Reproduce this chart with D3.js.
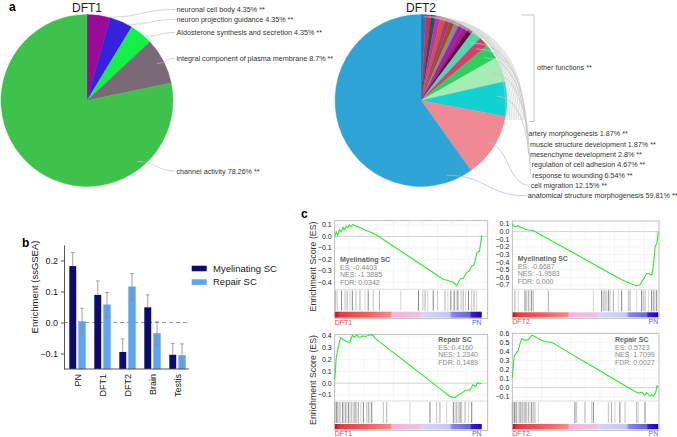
<!DOCTYPE html>
<html>
<head>
<meta charset="utf-8">
<script src="https://cdn.jsdelivr.net/npm/d3@7"></script>
<style>
  body { margin: 0; background: #fff; }
  svg { font-family: "Liberation Sans", Arial, sans-serif; }
</style>
</head>
<body>
<svg id="fig" width="677" height="437"></svg>
<script>
// ---------- panel a: pie data
const dft1Names = ['neuronal cell body', 'neuron projection guidance', 'Aldosterone synthesis and secretion',
  'integral component of plasma membrane', 'channel activity'];
const dft1Pct = [4.35, 4.35, 4.35, 8.7, 78.26];
const dft1Colors = ['#9a0c98', '#3422dc', '#14f048', '#7a6a78', '#3dc24b'];

// 11 small "other functions" slices first, then the named ones
const dft2Names = [null, null, null, null, null, null, null, null, null, null, null,
  'artery morphogenesis', 'muscle structure development', 'mesenchyme development',
  'regulation of cell adhesion', 'response to wounding', 'cell migration', 'anatomical structure morphogenesis'];
const dft2Pct = [0.93, 0.93, 0.93, 0.93, 0.93, 0.93, 0.93, 0.93, 0.93, 0.93, 0.93,
  1.87, 1.87, 2.8, 4.67, 6.54, 12.15, 59.81];
const dft2Colors = ['#2077b4', '#e0245a', '#1c5a50', '#d822c4', '#c0602a', '#b0308c', '#8b5a10', '#a07ca0',
  '#8e2aa0', '#a81890', '#5a0a40', '#50d6a8', '#d6406e', '#2ecf5c', '#a6ecb6', '#10d2d0', '#ef8a94', '#2ea4d6'];

// ---------- panel b: ssGSEA bars
const groups = ['PN', 'DFT1', 'DFT2', 'Brain', 'Testis'];
const seriesNames = ['Myelinating SC', 'Repair SC'];
const myelinating = [0.182, 0.089, -0.095, 0.049, -0.104];
const myelinatingErr = [0.044, 0.045, 0.042, 0.040, 0.036];
const repair = [0.003, 0.057, 0.115, -0.035, -0.106];
const repairErr = [0.043, 0.040, 0.043, 0.037, 0.037];
const bTicks = [0.2, 0.1, 0.0, -0.1];

// ---------- panel c: GSEA running enrichment scores [rank fraction, ES]
const esMyelDFT1 = [[0.000, 0.00], [0.010, 0.04], [0.020, 0.01], [0.033, 0.06], [0.045, 0.04], [0.056, 0.08],
  [0.066, 0.06], [0.080, 0.09], [0.090, 0.075], [0.100, 0.10], [0.112, 0.085], [0.122, 0.105], [0.135, 0.095],
  [0.150, 0.09], [0.175, 0.075], [0.210, 0.055], [0.250, 0.035], [0.300, 0.00], [0.400, -0.085], [0.500, -0.17],
  [0.600, -0.255], [0.700, -0.34], [0.740, -0.375], [0.760, -0.38], [0.785, -0.39], [0.805, -0.40], [0.830, -0.43],
  [0.845, -0.39], [0.855, -0.37], [0.875, -0.365], [0.898, -0.315], [0.915, -0.30], [0.932, -0.26], [0.945, -0.25],
  [0.955, -0.215], [0.968, -0.14], [0.985, -0.13], [1.000, 0.01]];
const esMyelDFT2 = [[0.000, 0.10], [0.010, 0.07], [0.020, 0.065], [0.040, 0.075], [0.055, 0.06], [0.075, 0.045],
  [0.090, 0.03], [0.110, 0.022], [0.144, 0.013], [0.167, -0.013], [0.247, -0.096], [0.350, -0.206], [0.450, -0.312],
  [0.550, -0.418], [0.650, -0.525], [0.749, -0.63], [0.818, -0.686], [0.852, -0.71], [0.874, -0.70], [0.886, -0.656],
  [0.905, -0.60], [0.920, -0.546], [0.940, -0.555], [0.955, -0.57], [0.966, -0.46], [0.978, -0.20], [0.990, -0.15],
  [1.000, 0.0]];
const esRepairDFT1 = [[0.000, 0.03], [0.010, 0.21], [0.025, 0.31], [0.040, 0.386], [0.070, 0.36], [0.100, 0.343],
  [0.120, 0.406], [0.135, 0.39], [0.150, 0.41], [0.170, 0.386], [0.190, 0.40], [0.210, 0.395], [0.240, 0.41],
  [0.260, 0.405], [0.275, 0.38], [0.400, 0.259], [0.500, 0.162], [0.600, 0.066], [0.700, -0.031], [0.786, -0.114],
  [0.820, -0.123], [0.840, -0.10], [0.862, -0.086], [0.890, -0.06], [0.920, -0.057], [0.940, -0.014], [0.960, -0.03],
  [0.970, 0.005], [0.985, -0.005], [1.000, 0.0]];
const esRepairDFT2 = [[0.000, 0.11], [0.007, 0.24], [0.014, 0.35], [0.030, 0.39], [0.041, 0.405], [0.052, 0.48],
  [0.064, 0.54], [0.087, 0.525], [0.110, 0.53], [0.133, 0.58], [0.155, 0.565], [0.178, 0.54], [0.224, 0.51],
  [0.270, 0.50], [0.400, 0.376], [0.500, 0.281], [0.600, 0.186], [0.700, 0.091], [0.817, -0.02], [0.863, -0.06],
  [0.886, -0.05], [0.909, -0.085], [0.920, -0.055], [0.943, -0.093], [0.955, -0.075], [0.966, -0.093],
  [0.982, -0.055], [0.990, 0.018], [1.000, 0.007]];

// gene set hit positions (rank fraction)
const hitsMyelDFT1 = [0.007, 0.018, 0.047, 0.07, 0.085, 0.104, 0.12, 0.145, 0.172, 0.206, 0.228, 0.262, 0.304,
  0.45, 0.57, 0.6, 0.615, 0.633, 0.67, 0.7, 0.75, 0.77, 0.79, 0.81, 0.815, 0.827, 0.838, 0.86, 0.874, 0.89, 0.91,
  0.932, 0.948, 0.966];
const hitsMyelDFT2 = [0.018, 0.041, 0.087, 0.098, 0.11, 0.121, 0.133, 0.144, 0.247, 0.555, 0.612, 0.623, 0.635,
  0.646, 0.658, 0.669, 0.692, 0.726, 0.749, 0.795, 0.806, 0.852, 0.886, 0.897, 0.909, 0.932, 0.954, 0.966, 0.97,
  0.977, 0.989];
const hitsRepairDFT1 = [0.002, 0.009, 0.014, 0.02, 0.03, 0.04, 0.054, 0.063, 0.074, 0.081, 0.093, 0.104, 0.116,
  0.127, 0.138, 0.15, 0.161, 0.177, 0.195, 0.218, 0.229, 0.24, 0.252, 0.331, 0.354, 0.512, 0.648, 0.694, 0.716,
  0.762, 0.807, 0.819, 0.83, 0.841, 0.853, 0.864, 0.887, 0.91, 0.932];
const hitsRepairDFT2 = [0.0, 0.007, 0.014, 0.023, 0.03, 0.041, 0.053, 0.059, 0.068, 0.075, 0.087, 0.098, 0.11,
  0.121, 0.133, 0.144, 0.155, 0.178, 0.429, 0.441, 0.498, 0.543, 0.555, 0.658, 0.68, 0.703, 0.737, 0.772, 0.852,
  0.863, 0.909];

const svg = d3.select('#fig');
const LABEL = '#333';

function panelLetter(t, x, y) {
  svg.append('text').attr('x', x).attr('y', y).attr('font-size', 12).attr('font-weight', 'bold').text(t);
}

function polar(cx, cy, r, a) {
  return [cx + r * Math.sin(a), cy - r * Math.cos(a)];
}

function drawPie(cx, cy, r, values, colors, title) {
  const arcs = d3.pie().sort(null).value(d => d)(values);
  const arc = d3.arc().innerRadius(0).outerRadius(r);
  const g = svg.append('g').attr('transform', `translate(${cx},${cy})`);
  g.selectAll('path')
    .data(arcs)
    .enter()
    .append('path')
    .attr('d', arc)
    .attr('fill', (d, i) => colors[i])
    .attr('stroke', (d, i) => colors[i])
    .attr('stroke-width', 0.4);
  svg.append('text')
    .attr('x', cx).attr('y', 11.5)
    .attr('text-anchor', 'middle')
    .attr('font-size', 12)
    .attr('fill', '#222')
    .text(title);
  return arcs;
}

// anchor point inside a slice: frac along the slice, rf of radius
function anchor(cx, cy, r, d, frac, rf) {
  const a = d.startAngle + (d.endAngle - d.startAngle) * frac;
  return polar(cx, cy, r * rf, a);
}

function sCurve(s, e) {
  const mx = s[0] + (e[0] - s[0]) * 0.5;
  return `M${s[0]},${s[1]}C${mx},${s[1]} ${mx},${e[1]} ${e[0]},${e[1]}`;
}

// ---------- panel a
panelLetter('a', 9, 11);

const R = 86;
const c1 = [87, 100.5];
const arcs1 = drawPie(c1[0], c1[1], R, dft1Pct, dft1Colors, 'DFT1');
const lay1 = [
  { y: 9.5, frac: 0.92, rf: 1.0 },
  { y: 19.5, frac: 0.78, rf: 1.0 },
  { y: 32.5, frac: 0.66, rf: 1.0 },
  { y: 58.5, frac: 0.48, rf: 0.92 },
  { y: 171, frac: 0.22, rf: 0.92 }
];
arcs1.forEach((d, i) => {
  const s = anchor(c1[0], c1[1], R, d, lay1[i].frac, lay1[i].rf);
  svg.append('path')
    .attr('d', sCurve(s, [175, lay1[i].y]))
    .attr('fill', 'none').attr('stroke', '#c4c4c4').attr('stroke-width', 0.7);
  svg.append('text')
    .attr('x', 176.5).attr('y', lay1[i].y + 2.5)
    .attr('font-size', 7.2).attr('fill', LABEL)
    .text(dft1Names[i] + ' ' + dft1Pct[i] + '% **');
});

const c2 = [421, 100.5];
const arcs2 = drawPie(c2[0], c2[1], R, dft2Pct, dft2Colors, 'DFT2');

// fan of leader lines for the small slices, closed with a bracket
let k = 0;
arcs2.forEach((d, i) => {
  if (dft2Names[i] !== null) return;
  const s = anchor(c2[0], c2[1], R, d, 0.5, 0.97);
  const ex = 524 - k * 1.8;
  const topY = 15 + k * 2.2;
  svg.append('path')
    .attr('d', `M${s[0]},${s[1]}C${s[0] + 10},${topY} ${ex},${topY} ${ex},120`)
    .attr('fill', 'none').attr('stroke', '#c8c8c8').attr('stroke-width', 0.6);
  k++;
});
svg.append('path')
  .attr('d', 'M522,15H534V121.5H529')
  .attr('fill', 'none').attr('stroke', '#b0b0b0').attr('stroke-width', 0.7);
svg.append('text')
  .attr('x', 537).attr('y', 69.5)
  .attr('font-size', 7.2).attr('fill', LABEL)
  .text('other functions **');

const lay2 = {
  'artery morphogenesis': { x: 528.3, y: 133.3, frac: 0.5, rf: 0.88, style: 'q' },
  'muscle structure development': { x: 530, y: 144, frac: 0.5, rf: 0.88, style: 'q' },
  'mesenchyme development': { x: 530, y: 154.3, frac: 0.5, rf: 0.88, style: 'q' },
  'regulation of cell adhesion': { x: 531.7, y: 164.7, frac: 0.5, rf: 0.88, style: 'q' },
  'response to wounding': { x: 532.3, y: 175, frac: 0.4, rf: 0.88, style: 'q' },
  'cell migration': { x: 530.7, y: 185.3, frac: 0.5, rf: 0.91, style: 's' },
  'anatomical structure morphogenesis': { x: 527.7, y: 195.7, frac: 0.076, rf: 0.92, style: 's' }
};
arcs2.forEach((d, i) => {
  const name = dft2Names[i];
  if (name === null) return;
  const L = lay2[name];
  const s = anchor(c2[0], c2[1], R, d, L.frac, L.rf);
  const e = [L.x - 1.5, L.y];
  const path = L.style === 'q'
    ? `M${s[0]},${s[1]}Q${e[0] - 4},${s[1]} ${e[0]},${e[1]}`
    : sCurve(s, e);
  svg.append('path')
    .attr('d', path)
    .attr('fill', 'none')
    .attr('stroke', L.style === 'q' ? '#c4c4c4' : '#b4b4e2')
    .attr('stroke-width', 0.7);
  svg.append('text')
    .attr('x', L.x).attr('y', L.y + 2.5)
    .attr('font-size', 7.2).attr('fill', LABEL)
    .text(name + ' ' + dft2Pct[i] + '% **');
});

// ---------- panel b
panelLetter('b', 22, 247);

const bx = d3.scaleBand().domain(groups).range([64, 189]);
const bs = d3.scaleBand().domain([0, 1]).range([5.3, 21.5]).paddingInner(0.25);
const by = d3.scaleLinear().domain([-0.15, 0.25]).range([369, 245]);
const barColors = ['#0c0c6c', '#5aa6f2'];
const barData = [
  { vals: myelinating, errs: myelinatingErr },
  { vals: repair, errs: repairErr }
];

svg.append('line')
  .attr('x1', 64).attr('x2', 189)
  .attr('y1', by(0)).attr('y2', by(0))
  .attr('stroke', '#9a9a9a').attr('stroke-width', 1).attr('stroke-dasharray', '4,3');

barData.forEach((s, si) => {
  svg.selectAll('.bar' + si)
    .data(groups)
    .enter()
    .append('rect')
    .attr('class', 'bar' + si)
    .attr('x', g => bx(g) + bs(si))
    .attr('width', bs.bandwidth())
    .attr('y', (g, i) => by(s.vals[i]))
    .attr('height', (g, i) => by(-0.15) - by(s.vals[i]))
    .attr('fill', barColors[si])
    .attr('stroke', si === 1 ? '#7fa8d6' : 'none')
    .attr('stroke-width', 0.5);

  groups.forEach((g, i) => {
    const cx = bx(g) + bs(si) + bs.bandwidth() / 2;
    const lo = si === 0 ? s.vals[i] : s.vals[i] - s.errs[i];
    const hi = s.vals[i] + s.errs[i];
    svg.append('line')
      .attr('x1', cx).attr('x2', cx).attr('y1', by(lo)).attr('y2', by(hi))
      .attr('stroke', '#8a8a8a').attr('stroke-width', 0.8);
    svg.append('line')
      .attr('x1', cx - 1.8).attr('x2', cx + 1.8).attr('y1', by(hi)).attr('y2', by(hi))
      .attr('stroke', '#8a8a8a').attr('stroke-width', 0.8);
    if (si === 1) {
      svg.append('line')
        .attr('x1', cx - 1.8).attr('x2', cx + 1.8).attr('y1', by(lo)).attr('y2', by(lo))
        .attr('stroke', '#8a8a8a').attr('stroke-width', 0.8);
    }
  });
});

const yAxisB = svg.append('g')
  .attr('transform', 'translate(64,0)')
  .call(d3.axisLeft(by).tickValues(bTicks).tickFormat(d3.format('.1f')).tickSize(3).tickSizeOuter(0));
yAxisB.select('.domain').attr('stroke', '#555');
yAxisB.selectAll('line').attr('stroke', '#555');
yAxisB.selectAll('text').attr('font-size', 9).attr('fill', '#222').attr('font-family', '"Liberation Sans", Arial');

svg.append('line')
  .attr('x1', 64).attr('x2', 189).attr('y1', 369).attr('y2', 369)
  .attr('stroke', '#555').attr('stroke-width', 1);

groups.forEach(g => {
  const cx = bx(g) + 13.5;
  svg.append('text')
    .attr('transform', `translate(${cx + 3},374) rotate(-90)`)
    .attr('text-anchor', 'end')
    .attr('font-size', 9).attr('fill', '#222')
    .text(g);
});

svg.append('text')
  .attr('transform', 'translate(38,287) rotate(-90)')
  .attr('text-anchor', 'middle')
  .attr('font-size', 9.5).attr('fill', '#222')
  .text('Enrichment (ssGSEA)');

seriesNames.forEach((n, i) => {
  const yy = 265.7 + i * 13.6;
  svg.append('rect')
    .attr('x', 191.7).attr('y', yy).attr('width', 15).attr('height', 5.6)
    .attr('fill', barColors[i]);
  svg.append('text')
    .attr('x', 213).attr('y', yy + 5.8)
    .attr('font-size', 9.5).attr('fill', '#222')
    .text(n);
});

// ---------- panel c
panelLetter('c', 301, 218);

const defs = svg.append('defs');
const grad = defs.append('linearGradient').attr('id', 'rankbar');
[[0, '#c00a2c'], [0.04, '#e83a44'], [0.2, '#f15a5c'], [0.38, '#f38a88'], [0.39, '#f6b4d8'], [0.58, '#f2bfe6'],
 [0.59, '#d8d6f6'], [0.78, '#c8c6f2'], [0.8, '#8a86e6'], [0.92, '#6a62dc'], [0.93, '#3a1ed0'], [1, '#2200c0']]
  .forEach(s => grad.append('stop').attr('offset', s[0]).attr('stop-color', s[1]));

function gseaPanel(p) {
  const x = d3.scaleLinear().domain([0, 1]).range([p.x0, p.x0 + p.w]);
  const y = d3.scaleLinear().domain(p.domain).range([p.esBottom, p.top]);
  const g = svg.append('g');

  // grid
  d3.range(1, 10).forEach(i => {
    g.append('line')
      .attr('x1', x(i / 10)).attr('x2', x(i / 10)).attr('y1', p.top).attr('y2', p.esBottom)
      .attr('stroke', '#f0f0f0').attr('stroke-width', 0.6);
  });
  p.ticks.forEach(t => {
    g.append('line')
      .attr('x1', p.x0).attr('x2', p.boxRight).attr('y1', y(t)).attr('y2', y(t))
      .attr('stroke', t === 0 ? '#cfcfcf' : '#f0f0f0').attr('stroke-width', t === 0 ? 0.9 : 0.6);
    g.append('text')
      .attr('x', p.x0 - 3).attr('y', y(t) + 2.4)
      .attr('text-anchor', 'end')
      .attr('font-size', 7).attr('fill', '#222')
      .text(d3.format('.1f')(t));
  });

  // hits
  g.selectAll('.hit')
    .data(p.hits)
    .enter()
    .append('line')
    .attr('x1', d => x(d)).attr('x2', d => x(d))
    .attr('y1', p.esBottom + 1).attr('y2', p.cbTop - 1)
    .attr('stroke', (d, i) => ['#9a9a9a', '#c8c8c8', '#6a6a6a', '#b4b4b4'][i % 4])
    .attr('stroke-width', 0.8);

  // ranked list colour bar
  g.append('rect')
    .attr('x', p.x0).attr('y', p.cbTop)
    .attr('width', p.w).attr('height', p.cbBottom - p.cbTop)
    .attr('fill', 'url(#rankbar)');

  // frame
  g.append('rect')
    .attr('x', p.x0).attr('y', p.top)
    .attr('width', p.boxRight - p.x0).attr('height', p.cbBottom + 1 - p.top)
    .attr('fill', 'none').attr('stroke', '#b0b0b0').attr('stroke-width', 0.8);
  g.append('line')
    .attr('x1', p.x0).attr('x2', p.boxRight).attr('y1', p.esBottom).attr('y2', p.esBottom)
    .attr('stroke', '#c8c8c8').attr('stroke-width', 0.6);

  // running ES
  const line = d3.line().x(d => x(d[0])).y(d => y(d[1]));
  g.append('path')
    .datum(p.curve)
    .attr('d', line)
    .attr('fill', 'none').attr('stroke', '#2fe82f').attr('stroke-width', 1.1);

  // stats text
  p.stats.forEach((t, i) => {
    g.append('text')
      .attr('x', p.textX).attr('y', p.textY + i * 7.7)
      .attr('font-size', 7)
      .attr('font-weight', i === 0 ? 'bold' : 'normal')
      .attr('fill', i === 0 ? '#666' : '#8a8a8a')
      .text(t);
  });

  g.append('text')
    .attr('x', p.x0).attr('y', p.cbBottom + 7)
    .attr('font-size', 7).attr('fill', '#e0485a')
    .text(p.left);
  g.append('text')
    .attr('x', p.x0 + p.w).attr('y', p.cbBottom + 7)
    .attr('text-anchor', 'end')
    .attr('font-size', 7).attr('fill', '#6a6ad2')
    .text('PN');
}

gseaPanel({
  x0: 334.7, w: 147, boxRight: 487.7, top: 220.7, esBottom: 289.3, cbTop: 311.7, cbBottom: 317.7,
  domain: [-0.461, 0.1375], ticks: [0.1, 0.0, -0.1, -0.2, -0.3, -0.4],
  curve: esMyelDFT1, hits: hitsMyelDFT1, left: 'DFT1',
  textX: 340, textY: 261.8,
  stats: ['Myelinating SC', 'ES: -0.4403', 'NES: -1.3885', 'FDR: 0.0342']
});
gseaPanel({
  x0: 512.3, w: 146, boxRight: 659, top: 221, esBottom: 289.3, cbTop: 312.3, cbBottom: 317.3,
  domain: [-0.756, 0.139], ticks: [0.1, 0.0, -0.1, -0.2, -0.3, -0.4, -0.5, -0.6, -0.7],
  curve: esMyelDFT2, hits: hitsMyelDFT2, left: 'DFT2',
  textX: 517.7, textY: 260.8,
  stats: ['Myelinating SC', 'ES: -0.6687', 'NES: -1.9583', 'FDR: 0.000']
});
gseaPanel({
  x0: 334.7, w: 147, boxRight: 487.7, top: 334.3, esBottom: 401, cbTop: 424, cbBottom: 429.3,
  domain: [-0.151, 0.414], ticks: [0.4, 0.3, 0.2, 0.1, 0.0, -0.1],
  curve: esRepairDFT1, hits: hitsRepairDFT1, left: 'DFT1',
  textX: 438.3, textY: 341.8,
  stats: ['Repair SC', 'ES: 0.4160', 'NES: 1.2340', 'FDR: 0.1489']
});
gseaPanel({
  x0: 512.3, w: 146, boxRight: 659, top: 333.3, esBottom: 401, cbTop: 424, cbBottom: 429.3,
  domain: [-0.147, 0.6], ticks: [0.6, 0.5, 0.4, 0.3, 0.2, 0.1, 0.0, -0.1],
  curve: esRepairDFT2, hits: hitsRepairDFT2, left: 'DFT2',
  textX: 615, textY: 341.8,
  stats: ['Repair SC', 'ES: 0.5723', 'NES: 1.7099', 'FDR: 0.0027']
});

[[266.5], [380]].forEach(d => {
  svg.append('text')
    .attr('transform', `translate(316,${d[0]}) rotate(-90)`)
    .attr('text-anchor', 'middle')
    .attr('font-size', 8.8).attr('fill', '#333')
    .text('Enrichment Score (ES)');
});
</script>
</body>
</html>
